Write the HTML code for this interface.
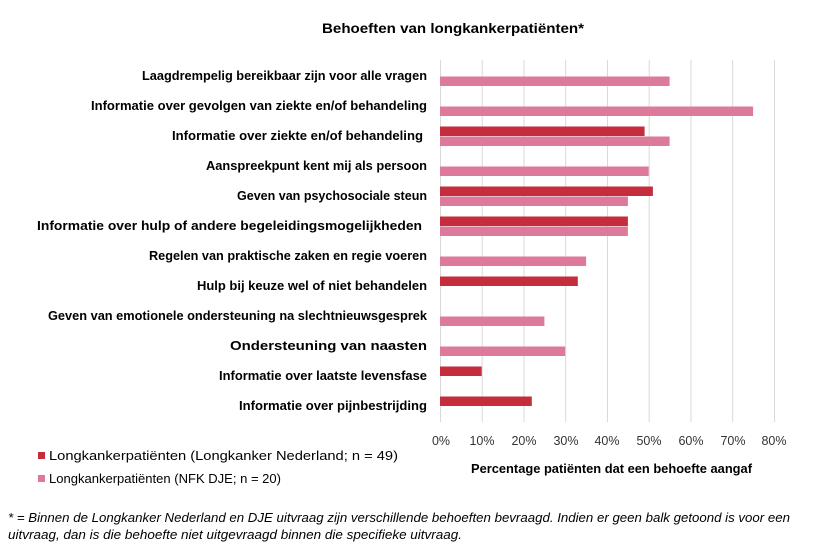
<!DOCTYPE html>
<html><head><meta charset="utf-8"><style>
body{margin:0;background:#fff;}
svg{display:block;font-family:"Liberation Sans",sans-serif;}
</style></head><body>
<svg width="825" height="553" xmlns="http://www.w3.org/2000/svg">
<text x="322" y="33" textLength="262" lengthAdjust="spacingAndGlyphs" font-size="14" font-weight="bold" fill="#000">Behoeften van longkankerpatiënten*</text>
<g stroke="#d9d9d9" stroke-width="1">
<line x1="440.5" y1="60" x2="440.5" y2="422"/><line x1="482.2" y1="60" x2="482.2" y2="422"/><line x1="524" y1="60" x2="524" y2="422"/><line x1="565.7" y1="60" x2="565.7" y2="422"/><line x1="607.5" y1="60" x2="607.5" y2="422"/><line x1="649.2" y1="60" x2="649.2" y2="422"/><line x1="691" y1="60" x2="691" y2="422"/><line x1="732.7" y1="60" x2="732.7" y2="422"/><line x1="774.5" y1="60" x2="774.5" y2="422"/>
</g>
<g fill="#dd7a99">
<rect x="440" y="76.5" width="229.6" height="9.5"/>
<rect x="440" y="106.5" width="313.1" height="9.5"/>
<rect x="440" y="136.5" width="229.6" height="9.5"/>
<rect x="440" y="166.5" width="208.7" height="9.5"/>
<rect x="440" y="196.5" width="187.9" height="9.5"/>
<rect x="440" y="226.5" width="187.9" height="9.5"/>
<rect x="440" y="256.5" width="146.1" height="9.5"/>
<rect x="440" y="316.5" width="104.4" height="9.5"/>
<rect x="440" y="346.5" width="125.2" height="9.5"/>
</g>
<g fill="#c62d3c">
<rect x="440" y="126.5" width="204.6" height="9.5"/>
<rect x="440" y="186.5" width="212.9" height="9.5"/>
<rect x="440" y="216.5" width="187.9" height="9.5"/>
<rect x="440" y="276.5" width="137.8" height="9.5"/>
<rect x="440" y="366.5" width="41.7" height="9.5"/>
<rect x="440" y="396.5" width="91.8" height="9.5"/>
</g>
<g font-size="12.5" font-weight="bold" fill="#000" lengthAdjust="spacingAndGlyphs">
<text x="142" y="80" textLength="285" lengthAdjust="spacingAndGlyphs">Laagdrempelig bereikbaar zijn voor alle vragen</text>
<text x="91" y="110" textLength="336" lengthAdjust="spacingAndGlyphs">Informatie over gevolgen van ziekte en/of behandeling</text>
<text x="172" y="140" textLength="251" lengthAdjust="spacingAndGlyphs">Informatie over ziekte en/of behandeling</text>
<text x="206" y="170" textLength="221" lengthAdjust="spacingAndGlyphs">Aanspreekpunt kent mij als persoon</text>
<text x="237" y="200" textLength="190" lengthAdjust="spacingAndGlyphs">Geven van psychosociale steun</text>
<text x="37" y="230" textLength="385" lengthAdjust="spacingAndGlyphs">Informatie over hulp of andere begeleidingsmogelijkheden</text>
<text x="149" y="260" textLength="278" lengthAdjust="spacingAndGlyphs">Regelen van praktische zaken en regie voeren</text>
<text x="197" y="290" textLength="230" lengthAdjust="spacingAndGlyphs">Hulp bij keuze wel of niet behandelen</text>
<text x="48" y="320" textLength="379" lengthAdjust="spacingAndGlyphs">Geven van emotionele ondersteuning na slechtnieuwsgesprek</text>
<text x="230" y="350" textLength="197" lengthAdjust="spacingAndGlyphs">Ondersteuning van naasten</text>
<text x="219" y="380" textLength="208" lengthAdjust="spacingAndGlyphs">Informatie over laatste levensfase</text>
<text x="239" y="410" textLength="188" lengthAdjust="spacingAndGlyphs">Informatie over pijnbestrijding</text>
</g>
<g font-size="12.5" fill="#333" text-anchor="middle">
<text x="441" y="445">0%</text><text x="482" y="445">10%</text><text x="524" y="445">20%</text><text x="566" y="445">30%</text><text x="607" y="445">40%</text><text x="649" y="445">50%</text><text x="691" y="445">60%</text><text x="733" y="445">70%</text><text x="774" y="445">80%</text>
</g>
<text x="471" y="473" textLength="281" lengthAdjust="spacingAndGlyphs" font-size="12.5" font-weight="bold" fill="#000">Percentage patiënten dat een behoefte aangaf</text>
<rect x="38" y="452" width="7" height="7" fill="#c62d3c"/>
<text x="49" y="460" textLength="349" lengthAdjust="spacingAndGlyphs" font-size="12.5" fill="#000">Longkankerpatiënten (Longkanker Nederland; n =  49)</text>
<rect x="38" y="475" width="7" height="7" fill="#dd7a99"/>
<text x="49" y="483" textLength="232" lengthAdjust="spacingAndGlyphs" font-size="12.5" fill="#000">Longkankerpatiënten (NFK DJE; n = 20)</text>
<g font-size="12.5" font-style="italic" fill="#000">
<text x="8" y="522" textLength="782" lengthAdjust="spacingAndGlyphs">* =  Binnen de Longkanker Nederland en DJE uitvraag zijn verschillende behoeften bevraagd. Indien er geen balk getoond is voor een</text>
<text x="8" y="539" textLength="454" lengthAdjust="spacingAndGlyphs">uitvraag, dan is die behoefte niet uitgevraagd binnen die specifieke uitvraag.</text>
</g>
</svg>
</body></html>
